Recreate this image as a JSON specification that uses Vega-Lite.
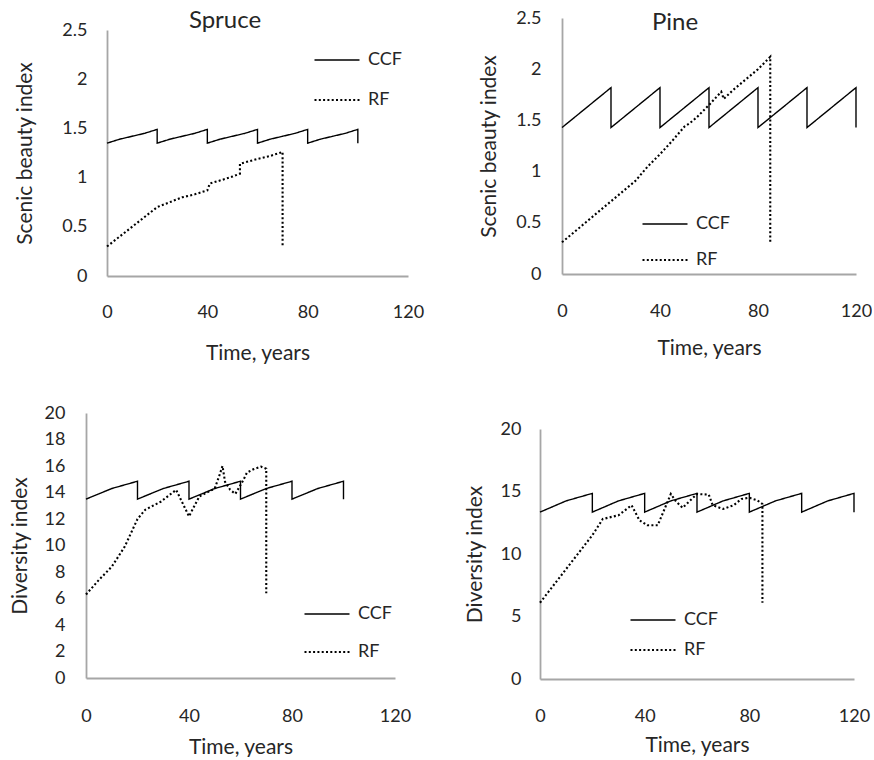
{
  "$schema": "https://vega.github.io/schema/vega-lite/v6.json",
  "padding": {"left": 9, "top": 9, "right": 0, "bottom": 0},
  "autosize": {"type": "pad"},
  "config": {
    "font": "Lato",
    "view": {"stroke": null},
    "axis": {"grid": false, "ticks": false, "tickSize": 0, "labelFlush": false, "domainColor": "#a6a6a6", "domainWidth": 1.8, "labelFont": "Lato", "labelFontSize": 18, "labelColor": "#262626", "titleFont": "Lato", "titleFontSize": 21, "titleFontWeight": "normal", "titleColor": "#262626"},
    "legend": {"symbolType": "stroke", "symbolSize": 2025, "symbolStrokeWidth": 1.5, "symbolStrokeColor": "black", "labelFont": "Lato", "labelFontSize": 18, "labelColor": "#262626", "labelOffset": 7, "clipHeight": 20, "padding": 0, "direction": "vertical"},
    "title": {"font": "Lato", "fontSize": 24, "fontWeight": "normal", "color": "#262626", "anchor": "middle", "frame": "group"}
  },
  "datasets": {
    "spruce_sb": [
      {"s":"CCF","i":0,"t":0,"v":1.35},{"s":"CCF","i":1,"t":5,"v":1.39},{"s":"CCF","i":2,"t":10,"v":1.42},{"s":"CCF","i":3,"t":15,"v":1.45},{"s":"CCF","i":4,"t":20,"v":1.49},
      {"s":"CCF","i":5,"t":20,"v":1.35},{"s":"CCF","i":6,"t":25,"v":1.39},{"s":"CCF","i":7,"t":30,"v":1.42},{"s":"CCF","i":8,"t":35,"v":1.45},{"s":"CCF","i":9,"t":40,"v":1.49},
      {"s":"CCF","i":10,"t":40,"v":1.35},{"s":"CCF","i":11,"t":45,"v":1.39},{"s":"CCF","i":12,"t":50,"v":1.42},{"s":"CCF","i":13,"t":55,"v":1.45},{"s":"CCF","i":14,"t":60,"v":1.49},
      {"s":"CCF","i":15,"t":60,"v":1.35},{"s":"CCF","i":16,"t":65,"v":1.39},{"s":"CCF","i":17,"t":70,"v":1.42},{"s":"CCF","i":18,"t":75,"v":1.45},{"s":"CCF","i":19,"t":80,"v":1.49},
      {"s":"CCF","i":20,"t":80,"v":1.35},{"s":"CCF","i":21,"t":85,"v":1.39},{"s":"CCF","i":22,"t":90,"v":1.42},{"s":"CCF","i":23,"t":95,"v":1.45},{"s":"CCF","i":24,"t":100,"v":1.49},
      {"s":"CCF","i":25,"t":100,"v":1.35},
      {"s":"RF","i":0,"t":0,"v":0.3},{"s":"RF","i":1,"t":5,"v":0.4},{"s":"RF","i":2,"t":10,"v":0.5},{"s":"RF","i":3,"t":15,"v":0.6},{"s":"RF","i":4,"t":20,"v":0.7},
      {"s":"RF","i":5,"t":25,"v":0.75},{"s":"RF","i":6,"t":30,"v":0.8},{"s":"RF","i":7,"t":35,"v":0.83},{"s":"RF","i":8,"t":40,"v":0.87},{"s":"RF","i":9,"t":41,"v":0.94},
      {"s":"RF","i":10,"t":45,"v":0.97},{"s":"RF","i":11,"t":50,"v":1.01},{"s":"RF","i":12,"t":53,"v":1.04},{"s":"RF","i":13,"t":53,"v":1.14},{"s":"RF","i":14,"t":60,"v":1.19},
      {"s":"RF","i":15,"t":65,"v":1.22},{"s":"RF","i":16,"t":70,"v":1.26},{"s":"RF","i":17,"t":70,"v":0.3}
    ],
    "pine_sb": [
      {"s":"CCF","i":0,"t":0,"v":1.43},{"s":"CCF","i":1,"t":20,"v":1.82},{"s":"CCF","i":2,"t":20,"v":1.43},{"s":"CCF","i":3,"t":40,"v":1.82},{"s":"CCF","i":4,"t":40,"v":1.43},
      {"s":"CCF","i":5,"t":60,"v":1.82},{"s":"CCF","i":6,"t":60,"v":1.43},{"s":"CCF","i":7,"t":80,"v":1.82},{"s":"CCF","i":8,"t":80,"v":1.43},{"s":"CCF","i":9,"t":100,"v":1.82},
      {"s":"CCF","i":10,"t":100,"v":1.43},{"s":"CCF","i":11,"t":120,"v":1.82},{"s":"CCF","i":12,"t":120,"v":1.43},
      {"s":"RF","i":0,"t":0,"v":0.31},{"s":"RF","i":1,"t":10,"v":0.51},{"s":"RF","i":2,"t":20,"v":0.71},{"s":"RF","i":3,"t":30,"v":0.91},{"s":"RF","i":4,"t":35,"v":1.05},
      {"s":"RF","i":5,"t":40,"v":1.17},{"s":"RF","i":6,"t":45,"v":1.3},{"s":"RF","i":7,"t":50,"v":1.44},{"s":"RF","i":8,"t":52,"v":1.47},{"s":"RF","i":9,"t":55,"v":1.53},
      {"s":"RF","i":10,"t":60,"v":1.65},{"s":"RF","i":11,"t":65,"v":1.78},{"s":"RF","i":12,"t":66,"v":1.71},{"s":"RF","i":13,"t":70,"v":1.8},{"s":"RF","i":14,"t":75,"v":1.9},
      {"s":"RF","i":15,"t":80,"v":2.0},{"s":"RF","i":16,"t":85,"v":2.12},{"s":"RF","i":17,"t":85,"v":0.31}
    ],
    "spruce_div": [
      {"s":"CCF","i":0,"t":0,"v":13.5},{"s":"CCF","i":1,"t":10,"v":14.3},{"s":"CCF","i":2,"t":20,"v":14.85},
      {"s":"CCF","i":3,"t":20,"v":13.5},{"s":"CCF","i":4,"t":30,"v":14.3},{"s":"CCF","i":5,"t":40,"v":14.85},
      {"s":"CCF","i":6,"t":40,"v":13.5},{"s":"CCF","i":7,"t":50,"v":14.3},{"s":"CCF","i":8,"t":60,"v":14.85},
      {"s":"CCF","i":9,"t":60,"v":13.5},{"s":"CCF","i":10,"t":70,"v":14.3},{"s":"CCF","i":11,"t":80,"v":14.85},
      {"s":"CCF","i":12,"t":80,"v":13.5},{"s":"CCF","i":13,"t":90,"v":14.3},{"s":"CCF","i":14,"t":100,"v":14.85},
      {"s":"CCF","i":15,"t":100,"v":13.5},
      {"s":"RF","i":0,"t":0,"v":6.3},{"s":"RF","i":1,"t":5,"v":7.4},{"s":"RF","i":2,"t":10,"v":8.4},{"s":"RF","i":3,"t":15,"v":9.9},{"s":"RF","i":4,"t":20,"v":12.0},
      {"s":"RF","i":5,"t":23,"v":12.7},{"s":"RF","i":6,"t":29,"v":13.3},{"s":"RF","i":7,"t":35,"v":14.2},{"s":"RF","i":8,"t":40,"v":12.2},{"s":"RF","i":9,"t":44,"v":13.7},
      {"s":"RF","i":10,"t":50,"v":14.3},{"s":"RF","i":11,"t":52,"v":15.4},{"s":"RF","i":12,"t":53,"v":16.0},{"s":"RF","i":13,"t":54,"v":14.8},{"s":"RF","i":14,"t":56,"v":14.2},
      {"s":"RF","i":15,"t":58,"v":13.9},{"s":"RF","i":16,"t":61,"v":14.9},{"s":"RF","i":17,"t":62.5,"v":15.5},{"s":"RF","i":18,"t":65,"v":15.75},{"s":"RF","i":19,"t":68,"v":15.95},
      {"s":"RF","i":20,"t":70,"v":15.8},{"s":"RF","i":21,"t":70,"v":6.4}
    ],
    "pine_div": [
      {"s":"CCF","i":0,"t":0,"v":13.35},{"s":"CCF","i":1,"t":10,"v":14.25},{"s":"CCF","i":2,"t":20,"v":14.85},
      {"s":"CCF","i":3,"t":20,"v":13.35},{"s":"CCF","i":4,"t":30,"v":14.25},{"s":"CCF","i":5,"t":40,"v":14.85},
      {"s":"CCF","i":6,"t":40,"v":13.35},{"s":"CCF","i":7,"t":50,"v":14.25},{"s":"CCF","i":8,"t":60,"v":14.85},
      {"s":"CCF","i":9,"t":60,"v":13.35},{"s":"CCF","i":10,"t":70,"v":14.25},{"s":"CCF","i":11,"t":80,"v":14.85},
      {"s":"CCF","i":12,"t":80,"v":13.35},{"s":"CCF","i":13,"t":90,"v":14.25},{"s":"CCF","i":14,"t":100,"v":14.85},
      {"s":"CCF","i":15,"t":100,"v":13.35},{"s":"CCF","i":16,"t":110,"v":14.25},{"s":"CCF","i":17,"t":120,"v":14.85},
      {"s":"CCF","i":18,"t":120,"v":13.35},
      {"s":"RF","i":0,"t":0,"v":6.1},{"s":"RF","i":1,"t":10,"v":8.8},{"s":"RF","i":2,"t":20,"v":11.5},{"s":"RF","i":3,"t":24,"v":12.8},{"s":"RF","i":4,"t":30,"v":13.1},
      {"s":"RF","i":5,"t":35,"v":13.9},{"s":"RF","i":6,"t":38,"v":12.7},{"s":"RF","i":7,"t":41,"v":12.3},{"s":"RF","i":8,"t":45,"v":12.3},{"s":"RF","i":9,"t":48,"v":13.8},
      {"s":"RF","i":10,"t":50,"v":14.8},{"s":"RF","i":11,"t":52,"v":14.2},{"s":"RF","i":12,"t":54.5,"v":13.7},{"s":"RF","i":13,"t":57,"v":14.2},{"s":"RF","i":14,"t":60,"v":14.8},
      {"s":"RF","i":15,"t":64.5,"v":14.75},{"s":"RF","i":16,"t":66,"v":13.9},{"s":"RF","i":17,"t":70,"v":13.6},{"s":"RF","i":18,"t":74,"v":13.9},{"s":"RF","i":19,"t":77,"v":14.4},
      {"s":"RF","i":20,"t":80,"v":14.5},{"s":"RF","i":21,"t":83,"v":14.3},{"s":"RF","i":22,"t":85,"v":14.0},{"s":"RF","i":23,"t":85,"v":6.1}
    ]
  },
  "spacing": 41,
  "resolve": {"scale": {"strokeDash": "independent", "strokeWidth": "independent"}, "legend": {"strokeDash": "independent"}},
  "vconcat": [
    {
      "spacing": 54,
      "resolve": {"scale": {"strokeDash": "independent", "strokeWidth": "independent"}, "legend": {"strokeDash": "independent"}},
      "hconcat": [
        {
          "width": 322, "height": 258,
          "title": {"text": "Spruce", "offset": -15, "dx": -22},
          "data": {"name": "spruce_sb"},
          "mark": {"type": "line", "color": "black"},
          "encoding": {
            "x": {"field": "t", "type": "quantitative", "scale": {"domain": [0, 120], "nice": false, "range": [21, 322]}, "axis": {"values": [0, 40, 80, 120], "format": "d", "title": "Time, years", "labelPadding": 27, "titlePadding": 21}},
            "y": {"field": "v", "type": "quantitative", "scale": {"domain": [0, 2.5], "nice": false, "range": [258, 12]}, "axis": {"offset": -21, "values": [0, 0.5, 1, 1.5, 2, 2.5], "format": "~g", "title": "Scenic beauty index", "labelPadding": 20, "titlePadding": 26}},
            "strokeDash": {"field": "s", "type": "nominal", "scale": {"domain": ["CCF", "RF"], "range": [[1, 0], [2, 2.3]]}, "legend": {"title": null, "orient": "none", "legendX": 227, "legendY": 32, "rowPadding": 20}},
            "strokeWidth": {"field": "s", "type": "nominal", "scale": {"domain": ["CCF", "RF"], "range": [1.4, 2.1]}, "legend": null},
            "order": {"field": "i", "type": "quantitative"}
          }
        },
        {
          "width": 294, "height": 256,
          "title": {"text": "Pine", "offset": -26, "dx": -34},
          "data": {"name": "pine_sb"},
          "mark": {"type": "line", "color": "black"},
          "encoding": {
            "x": {"field": "t", "type": "quantitative", "scale": {"domain": [0, 120], "nice": false}, "axis": {"values": [0, 40, 80, 120], "format": "d", "title": "Time, years", "labelPadding": 28, "titlePadding": 17}},
            "y": {"field": "v", "type": "quantitative", "scale": {"domain": [0, 2.5], "nice": false}, "axis": {"values": [0, 0.5, 1, 1.5, 2, 2.5], "format": "~g", "title": "Scenic beauty index", "labelPadding": 21, "titlePadding": 16}},
            "strokeDash": {"field": "s", "type": "nominal", "scale": {"domain": ["CCF", "RF"], "range": [[1, 0], [2, 2.3]]}, "legend": {"title": null, "orient": "none", "legendX": 79, "legendY": 196, "rowPadding": 16}},
            "strokeWidth": {"field": "s", "type": "nominal", "scale": {"domain": ["CCF", "RF"], "range": [1.4, 2.1]}, "legend": null},
            "order": {"field": "i", "type": "quantitative"}
          }
        }
      ]
    },
    {
      "spacing": 53,
      "resolve": {"scale": {"strokeDash": "independent", "strokeWidth": "independent"}, "legend": {"strokeDash": "independent"}},
      "hconcat": [
        {
          "width": 309, "height": 265,
          "data": {"name": "spruce_div"},
          "mark": {"type": "line", "color": "black"},
          "encoding": {
            "x": {"field": "t", "type": "quantitative", "scale": {"domain": [0, 120], "nice": false}, "axis": {"values": [0, 40, 80, 120], "format": "d", "title": "Time, years", "labelPadding": 29, "titlePadding": 11}},
            "y": {"field": "v", "type": "quantitative", "scale": {"domain": [0, 20], "nice": false}, "axis": {"values": [0, 2, 4, 6, 8, 10, 12, 14, 16, 18, 20], "format": "d", "title": "Diversity index", "labelPadding": 21, "titlePadding": 14}},
            "strokeDash": {"field": "s", "type": "nominal", "scale": {"domain": ["CCF", "RF"], "range": [[1, 0], [2, 2.3]]}, "legend": {"title": null, "orient": "none", "legendX": 217, "legendY": 191, "rowPadding": 18}},
            "strokeWidth": {"field": "s", "type": "nominal", "scale": {"domain": ["CCF", "RF"], "range": [1.4, 2.1]}, "legend": null},
            "order": {"field": "i", "type": "quantitative"}
          }
        },
        {
          "width": 314, "height": 266,
          "data": {"name": "pine_div"},
          "mark": {"type": "line", "color": "black"},
          "encoding": {
            "x": {"field": "t", "type": "quantitative", "scale": {"domain": [0, 120], "nice": false}, "axis": {"values": [0, 40, 80, 120], "format": "d", "title": "Time, years", "labelPadding": 28, "titlePadding": 9}},
            "y": {"field": "v", "type": "quantitative", "scale": {"domain": [0, 20], "nice": false, "range": [266, 16]}, "axis": {"values": [0, 5, 10, 15, 20], "format": "d", "title": "Diversity index", "labelPadding": 19, "titlePadding": 15}},
            "strokeDash": {"field": "s", "type": "nominal", "scale": {"domain": ["CCF", "RF"], "range": [[1, 0], [2, 2.3]]}, "legend": {"title": null, "orient": "none", "legendX": 89, "legendY": 197, "rowPadding": 10}},
            "strokeWidth": {"field": "s", "type": "nominal", "scale": {"domain": ["CCF", "RF"], "range": [1.4, 2.1]}, "legend": null},
            "order": {"field": "i", "type": "quantitative"}
          }
        }
      ]
    }
  ]
}
